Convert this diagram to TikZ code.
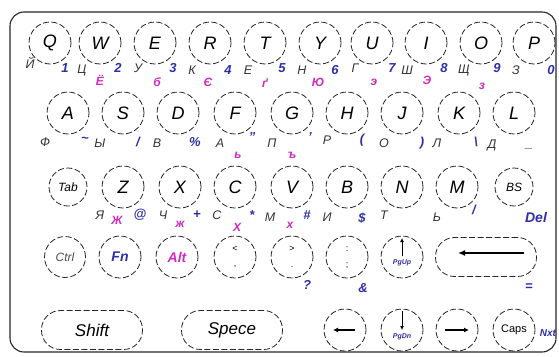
\documentclass[tikz,border=0pt]{standalone}
\usepackage{fontspec}
\setmainfont{Liberation Sans}
\usetikzlibrary{arrows.meta}
\definecolor{kblue}{HTML}{2E2EA8}
\definecolor{kpink}{HTML}{D02CC0}
\begin{document}
\begin{tikzpicture}[x=1pt,y=-1pt,
  keyline/.style={draw=black!85,line width=0.8pt,dash pattern=on 6pt off 2.5pt},
  key/.style={keyline,circle,minimum size=42pt,inner sep=0pt,font=\fontsize{18}{18}\selectfont\itshape},
  skey/.style={keyline,circle,minimum size=38pt,inner sep=0pt,font=\fontsize{12}{12}\selectfont\itshape},
  wkey/.style={keyline,rounded corners=19pt,minimum width=101pt,minimum height=39pt,inner sep=0pt,font=\fontsize{17}{17}\selectfont\itshape},
  blk/.style={inner sep=0pt,text=black!80,font=\fontsize{12.5}{12.5}\selectfont\itshape},
  blu/.style={inner sep=0pt,text=kblue,font=\fontsize{13}{13}\selectfont\itshape\bfseries},
  pnk/.style={inner sep=0pt,text=kpink,font=\fontsize{12}{12}\selectfont\itshape\bfseries},
  tiny/.style={inner sep=0pt,font=\fontsize{9}{9}\selectfont},
  tinyb/.style={inner sep=0pt,text=kblue,font=\fontsize{7}{7}\selectfont\itshape\bfseries},
  arr/.style={line width=1.2pt,-{Latex[length=5pt,width=5pt]}}
]
\useasboundingbox (0,0) rectangle (559,356);
\draw[line width=1.1pt,black!85,rounded corners=14pt] (10,12) rectangle (556,352);

% row 1
\node[key] (Q) at (50,43) {Q};
\node[key] (W) at (100,43) {W};
\node[key] (E) at (155,43) {E};
\node[key] (R) at (210,43) {R};
\node[key] (T) at (265,43) {T};
\node[key] (Y) at (320,43) {Y};
\node[key] (U) at (372,43) {U};
\node[key] (I) at (426,43) {I};
\node[key] (O) at (481,43) {O};
\node[key] (P) at (534,43) {P};
% row 2
\node[key] (A) at (68,113) {A};
\node[key] (S) at (123,113) {S};
\node[key] (D) at (178,113) {D};
\node[key] (F) at (235,113) {F};
\node[key] (G) at (292,113) {G};
\node[key] (H) at (347,113) {H};
\node[key] (J) at (402,113) {J};
\node[key] (K) at (459,113) {K};
\node[key] (L) at (514,113) {L};
% row 3
\node[skey] (Tab) at (68,187) {Tab};
\node[key] (Z) at (123,187) {Z};
\node[key] (X) at (180,187) {X};
\node[key] (C) at (235,187) {C};
\node[key] (V) at (292,187) {V};
\node[key] (B) at (347,187) {B};
\node[key] (N) at (402,187) {N};
\node[key] (M) at (457,187) {M};
\node[skey] (BS) at (514,187) {BS};
% row 4
\node[skey,minimum size=41pt,text=black!70] (Ctrl) at (65,257) {Ctrl};
\node[key,font=\fontsize{14}{14}\selectfont\itshape\bfseries,text=kblue] (Fn) at (120,257) {Fn};
\node[key,font=\fontsize{14}{14}\selectfont\itshape\bfseries,text=kpink] (Alt) at (177,257) {Alt};
\node[key] (k1) at (235,257) {};
\node[key] (k2) at (292,257) {};
\node[key] (k3) at (347,257) {};
\node[key] (PgUp) at (402,257) {};
\node[wkey] (Enter) at (486,257) {};
% row 5
\node[wkey] (Shift) at (92,330) {Shift};
\node[wkey] (Spece) at (232,330) {Spece};
\node[key] (Left) at (345,330) {};
\node[key] (Down) at (402,330) {};
\node[key] (Right) at (457,330) {};
\node[key] (Caps) at (514,330) {};

% symbols inside keys
\node[tiny] (k1a) at ([yshift=8]k1.center) {<};
\node[tiny] (k1b) at ([yshift=-10]k1.center) {,};
\node[tiny] (k2a) at ([yshift=8]k2.center) {>};
\node[tiny] (k2b) at ([yshift=-10]k2.center) {.};
\node[tiny] (k3a) at ([yshift=8]k3.center) {:};
\node[tiny] (k3b) at ([yshift=-9]k3.center) {;};
\draw[line width=1pt,-{Latex[length=4pt,width=4pt]}] ([yshift=1]PgUp.center) -- ([yshift=19]PgUp.center);
\node[tinyb] (pgu) at ([yshift=-6]PgUp.center) {PgUp};
\draw[line width=1pt,-{Latex[length=4pt,width=4pt]}] ([yshift=19]Down.center) -- ([yshift=0]Down.center);
\node[tinyb] (pgd) at ([yshift=-7]Down.center) {PgDn};
\draw[line width=1.3pt,-{Latex[length=7pt,width=6pt]}] ([xshift=38,yshift=4]Enter.center) -- ([xshift=-28,yshift=4]Enter.center);
\draw[arr] ([xshift=10]Left.center) -- ([xshift=-12]Left.center);
\draw[arr] ([xshift=-12]Right.center) -- ([xshift=12]Right.center);
\node[inner sep=0pt,font=\fontsize{11}{11}\selectfont] (capst) at (Caps.center) {Caps};

% row 1 labels
\node[blk] (q1) at (30,63) {Й};
\node[blu] (q2) at (65,68) {1};
\node[blk] (w1) at (82,70) {Ц};
\node[pnk] (w2) at (100,80) {Ё};
\node[blu] (w3) at (118,68) {2};
\node[blk] (e1) at (138,68) {У};
\node[pnk] (e2) at (157,82) {б};
\node[blu] (e3) at (173,68) {3};
\node[blk] (r1) at (192,70) {К};
\node[pnk] (r2) at (208,82) {Є};
\node[blu] (r3) at (228,70) {4};
\node[blk] (t1) at (248,70) {Е};
\node[pnk] (t2) at (265,83) {ґ};
\node[blu] (t3) at (282,68) {5};
\node[blk] (y1) at (302,70) {Н};
\node[pnk] (y2) at (318,82) {Ю};
\node[blu] (y3) at (335,70) {6};
\node[blk] (u1) at (355,68) {Г};
\node[pnk] (u2) at (374,82) {э};
\node[blu] (u3) at (392,68) {7};
\node[blk] (i1) at (407,70) {Ш};
\node[pnk] (i2) at (427,80) {Э};
\node[blu] (i3) at (444,68) {8};
\node[blk] (o1) at (464,70) {Щ};
\node[pnk] (o2) at (482,86) {з};
\node[blu] (o3) at (497,68) {9};
\node[blk] (p1) at (516,70) {З};
\node[blu] (p3) at (551,70) {0};

% row 2 labels
\node[blk] (a1) at (45,142) {Ф};
\node[blu] (s0) at (85,140) {\textasciitilde};
\node[blk] (s1) at (100,143) {Ы};
\node[blu] (s2) at (138,142) {/};
\node[blk] (d1) at (157,143) {В};
\node[blu] (d2) at (195,142) {\%};
\node[blk] (f1) at (220,143) {А};
\node[pnk] (f2) at (238,155) {ь};
\node[blu] (f3) at (252,137) {"};
\node[blk] (g1) at (272,143) {П};
\node[pnk] (g2) at (292,155) {ъ};
\node[blu] (g3) at (310,137) {'};
\node[blk] (h1) at (327,140) {Р};
\node[blu] (h2) at (362,140) {(};
\node[blk] (j1) at (384,143) {О};
\node[blu] (j2) at (422,143) {)};
\node[blk] (k1l) at (437,143) {Л};
\node[blu] (k2l) at (476,142) {\textbackslash};
\node[blk] (l1) at (492,145) {Д};
\node[blu] (l2) at (529,148) {\_};

% row 3 labels
\node[blk] (z1) at (100,215) {Я};
\node[pnk] (z2) at (117,220) {Ж};
\node[blu] (z3) at (140,215) {@};
\node[blk] (x1) at (163,215) {Ч};
\node[pnk] (x2) at (180,224) {ж};
\node[blu] (x3) at (197,215) {+};
\node[blk] (c1) at (217,215) {С};
\node[pnk] (c2) at (237,227) {Х};
\node[blu] (c3) at (252,215) {*};
\node[blk] (v1) at (270,217) {М};
\node[pnk] (v2) at (290,225) {х};
\node[blu] (v3) at (307,215) {\#};
\node[blk] (b1) at (327,217) {И};
\node[blu] (b2) at (362,218) {\$};
\node[blk] (n1) at (384,215) {Т};
\node[blk] (m1) at (437,217) {Ь};
\node[blu] (m2) at (474,210) {/};
\node[blu,font=\fontsize{14}{14}\selectfont\itshape\bfseries] (bs2) at (536,217) {Del};

% row 4 labels
\node[blu] (k2q) at (307,285) {?};
\node[blu] (k3q) at (363,288) {\&};
\node[blu] (eq) at (529,287) {=};
\node[blu,font=\fontsize{10}{10}\selectfont\itshape\bfseries] (nxt) at (548,333) {Nxt};
\end{tikzpicture}
\end{document}
